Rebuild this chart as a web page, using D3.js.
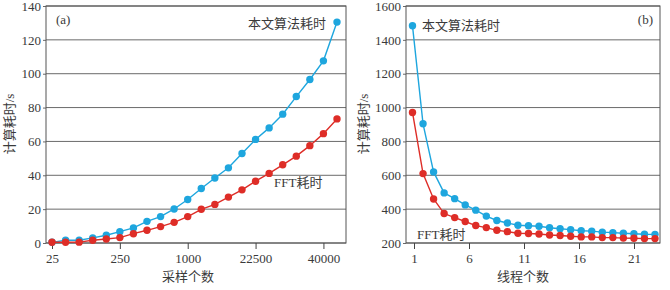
<!DOCTYPE html>
<html lang="zh">
  <head>
    <meta charset="UTF-8" />
    <title>计算耗时</title>
    <style>
      body { margin: 0; background: #fff; }
      text { fill: #3a3a3a; }
    </style>
  </head>
  <body>
    <script src="https://d3js.org/d3.v7.min.js"></script>
    <svg id="chart" width="670" height="290"></svg>
    <script>
      // (a) 采样个数 vs 计算耗时
      const sampleTicks = ['25', '250', '1000', '22500', '40000'];
      const oursA = [0.4, 1.6, 1.6, 3.0, 4.6, 6.7, 8.9, 12.8, 15.6, 20.1, 25.7,
        32.2, 38.4, 44.4, 52.9, 61.2, 68.0, 76.1, 86.5, 96.6, 107.6, 130.5];
      const fftA = [0.4, 0.4, 0.5, 1.6, 2.4, 3.2, 5.5, 7.5, 9.7, 12.2, 15.6,
        19.9, 22.8, 27.1, 31.4, 36.5, 41.1, 46.2, 51.3, 57.5, 64.6, 73.3];

      // (b) 线程个数 vs 计算耗时
      const threads = d3.range(1, 25);
      const threadTicks = [1, 6, 11, 16, 21];
      const oursB = [1483, 904, 620, 496, 462, 425, 394, 359, 333, 318, 305,
        302, 299, 290, 284, 279, 272, 270, 264, 261, 258, 255, 252, 251];
      const fftB = [971, 610, 460, 374, 350, 327, 303, 291, 275, 267, 258,
        256, 253, 247, 244, 240, 236, 236, 232, 232, 229, 228, 226, 226];

      const blue = '#1ea6de';
      const red = '#de2d27';
      const gridColor = '#6a6a6a';
      const numFont = '"Liberation Serif", "DejaVu Serif", serif';
      const cjkFont = '"Noto Sans CJK SC", sans-serif';

      const svg = d3.select('#chart');

      // label with latin part in serif, CJK part in Noto
      function label(g, x, y, latin, cjk, anchor) {
        const t = g.append('text').attr('x', x).attr('y', y)
          .attr('font-size', 13).attr('text-anchor', anchor || 'start');
        if (latin) t.append('tspan').attr('font-family', numFont).text(latin);
        if (cjk) t.append('tspan').attr('font-family', cjkFont).text(cjk);
        return t;
      }

      function panel(opts) {
        const g = svg.append('g');
        const { x0, x1, y0, y1, y } = opts;

        // y axis ticks
        g.append('g')
          .attr('transform', `translate(${x0},0)`)
          .call(d3.axisLeft(y).tickValues(opts.yTicks).tickFormat(d3.format('d')).tickSize(3).tickPadding(2))
          .call((a) => a.select('.domain').remove())
          .call((a) => a.selectAll('line').attr('stroke', gridColor))
          .call((a) => a.selectAll('text')
            .attr('font-family', numFont).attr('font-size', 13).attr('fill', '#3a3a3a'));

        // gridlines
        g.append('g')
          .selectAll('line')
          .data(opts.yTicks)
          .join('line')
          .attr('x1', x0).attr('x2', x1)
          .attr('y1', (d) => y(d)).attr('y2', (d) => y(d))
          .attr('stroke', gridColor).attr('stroke-width', 1);

        // frame
        g.append('rect')
          .attr('x', x0).attr('y', y1)
          .attr('width', x1 - x0).attr('height', y0 - y1)
          .attr('fill', 'none').attr('stroke', '#555').attr('stroke-width', 1);

        // x axis
        g.append('g')
          .attr('transform', `translate(0,${y0})`)
          .call(opts.xAxis.tickSize(6).tickPadding(5))
          .call((a) => a.select('.domain').remove())
          .call((a) => a.selectAll('line').attr('stroke', '#444'))
          .call((a) => a.selectAll('text')
            .attr('font-family', numFont).attr('font-size', 13).attr('fill', '#3a3a3a'));

        // series
        opts.series.forEach((s) => {
          const line = d3.line()
            .x((d, i) => opts.px(i))
            .y((d) => y(d));
          g.append('path')
            .datum(s.values)
            .attr('d', line)
            .attr('fill', 'none')
            .attr('stroke', s.color)
            .attr('stroke-width', 1.4);
          g.append('g')
            .selectAll('circle')
            .data(s.values)
            .join('circle')
            .attr('cx', (d, i) => opts.px(i))
            .attr('cy', (d) => y(d))
            .attr('r', 3.7)
            .attr('fill', s.color);
        });

        // titles
        g.append('text')
          .attr('x', (x0 + x1) / 2 + opts.titleDx)
          .attr('y', 281)
          .attr('text-anchor', 'middle')
          .attr('font-family', cjkFont)
          .attr('font-size', 13)
          .text(opts.xTitle);

        g.append('text')
          .attr('transform', `translate(${opts.yTitleX},124) rotate(-90)`)
          .attr('text-anchor', 'middle')
          .attr('font-size', 13)
          .call((t) => t.append('tspan').attr('font-family', cjkFont).text('计算耗时'))
          .call((t) => t.append('tspan').attr('font-family', numFont).text('/s'));

        return g;
      }

      // panel (a)
      const yA = d3.scaleLinear().domain([0, 140]).range([243, 6]);
      const xA = d3.scaleLinear().domain([0, oursA.length - 1]).range([52, 337]);
      const gA = panel({
        x0: 46, x1: 346, y0: 243, y1: 6, y: yA,
        yTicks: d3.range(0, 141, 20),
        xAxis: d3.axisBottom(xA).tickValues([0, 5, 10, 15, 20]).tickFormat((d, i) => sampleTicks[i]),
        px: xA,
        series: [{ values: oursA, color: blue }, { values: fftA, color: red }],
        xTitle: '采样个数', titleDx: -8, yTitleX: 14
      });
      label(gA, 56, 24, '(a)', null);
      label(gA, 326, 28, null, '本文算法耗时', 'end');
      label(gA, 274, 187, 'FFT', '耗时');

      // panel (b)
      const yB = d3.scaleLinear().domain([200, 1600]).range([243, 6]);
      const xB = d3.scalePoint().domain(threads).range([412.5, 655]);
      const xBaxis = d3.scaleLinear().domain([1, 21]).range([414, 634]);
      const gB = panel({
        x0: 406, x1: 660, y0: 243, y1: 6, y: yB,
        yTicks: d3.range(200, 1601, 200),
        xAxis: d3.axisBottom(xBaxis).tickValues(threadTicks).tickFormat(d3.format('d')),
        px: (i) => xB(threads[i]),
        series: [{ values: oursB, color: blue }, { values: fftB, color: red }],
        xTitle: '线程个数', titleDx: -10, yTitleX: 368
      });
      label(gB, 653, 24, '(b)', null, 'end');
      label(gB, 422, 30, null, '本文算法耗时');
      label(gB, 417, 239, 'FFT', '耗时');
    </script>
  </body>
</html>
